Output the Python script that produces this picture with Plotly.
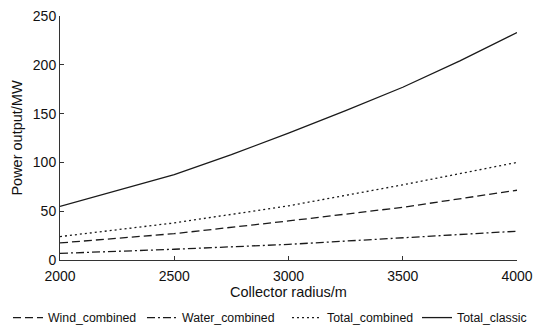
import plotly.graph_objects as go

radius = [2000, 2375, 2500, 2750, 3000, 3250, 3500, 3750, 4000]
total_classic = [55, 79, 87.5, 108, 130, 153, 177, 204, 233]
radius_c = [2000, 2500, 3000, 3500, 4000]
wind_combined = [17.5, 27, 40, 54, 71.5]
water_combined = [6.8, 11, 16, 22.5, 29.5]
total_combined = [24, 38, 55.5, 77, 100]

fig = go.Figure()
lw = 1.3
col = "#1a1a1a"
fig.add_trace(go.Scatter(x=radius_c, y=wind_combined, mode="lines", name="Wind_combined",
                         line=dict(color=col, width=lw, dash="8px,4px"), legend="legend"))
fig.add_trace(go.Scatter(x=radius_c, y=water_combined, mode="lines", name="Water_combined",
                         line=dict(color=col, width=lw, dash="8px,3px,2px,3px"), legend="legend2"))
fig.add_trace(go.Scatter(x=radius_c, y=total_combined, mode="lines", name="Total_combined",
                         line=dict(color=col, width=lw, dash="2px,3px"), legend="legend3"))
fig.add_trace(go.Scatter(x=radius, y=total_classic, mode="lines", name="Total_classic",
                         line=dict(color=col, width=lw), legend="legend4"))

axis_common = dict(showline=True, linecolor="#333", linewidth=1, ticks="inside", ticklen=4,
                   tickcolor="#333", showgrid=False, zeroline=False,
                   tickfont=dict(size=14, color="#111"))

def leg(x):
    return dict(x=x, xanchor="left", y=-0.236, yanchor="middle", font=dict(size=12.3),
                itemwidth=30, bgcolor="rgba(0,0,0,0)", borderwidth=0)

fig.update_layout(
    width=543, height=326,
    margin=dict(l=60, r=26, t=16, b=66, autoexpand=False),
    plot_bgcolor="white", paper_bgcolor="white",
    font=dict(family="Liberation Sans, Arial, sans-serif", color="#111"),
    xaxis=dict(range=[2000, 4000], tickvals=[2000, 2500, 3000, 3500, 4000], ticklabelstandoff=3,
               title=dict(text="Collector radius/m", font=dict(size=14.5), standoff=0), **axis_common),
    yaxis=dict(range=[0, 250], tickvals=[0, 50, 100, 150, 200, 250],
               title=dict(text="Power output/MW", font=dict(size=14.5), standoff=6), **axis_common),
    legend=leg(-0.1138),
    legend2=leg(0.1794),
    legend3=leg(0.4967),
    legend4=leg(0.7812),
    showlegend=True,
)
fig.write_html("out.html", config={"displayModeBar": False},
               post_script="document.body.style.margin='0';document.body.style.overflow='hidden';")
